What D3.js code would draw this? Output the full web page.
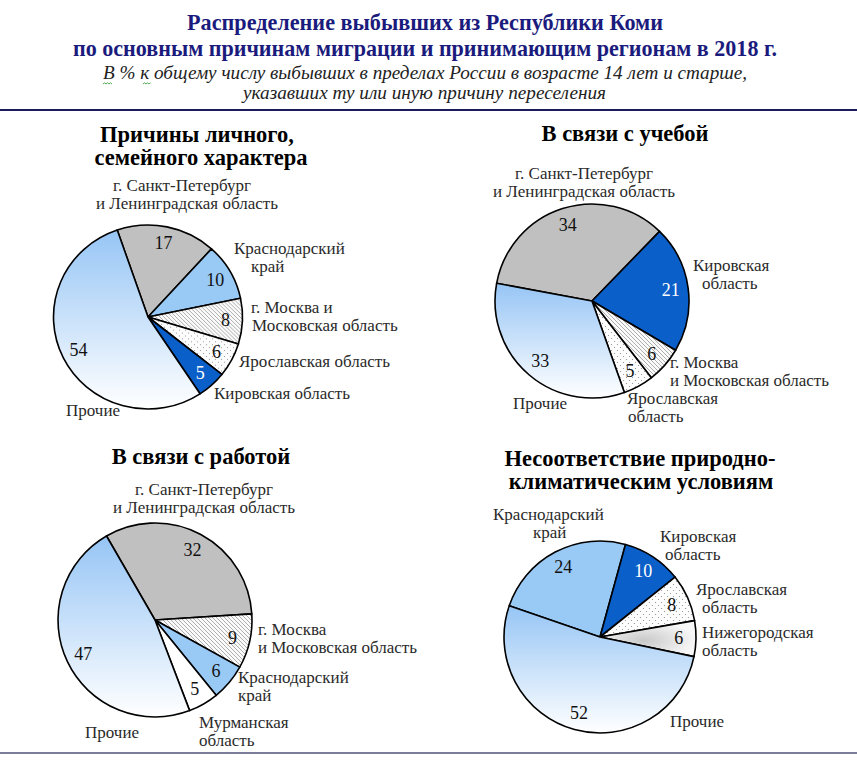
<!DOCTYPE html>
<html><head><meta charset="utf-8">
<script src="https://cdn.jsdelivr.net/npm/d3@7"></script>
<style>
html,body{margin:0;padding:0;background:#fff;}
svg text{font-family:"Liberation Serif","DejaVu Serif","Times New Roman",serif;}
</style></head>
<body>
<svg id="chart" width="857" height="773"></svg>
<script>
// ---------- DATA ----------
const mainTitle1 = "Распределение выбывших из Республики Коми";
const mainTitle2 = "по основным причинам миграции и принимающим регионам в 2018 г.";
const subTitle1 = "В % к общему числу выбывших в пределах России в возрасте 14 лет и старше,";
const subTitle2 = "указавших ту или иную причину переселения";

const personalRegions = ["г. Санкт-Петербург и Ленинградская область","Краснодарский край","г. Москва и Московская область","Ярославская область","Кировская область","Прочие"];
const personalValues = [17, 10, 8, 6, 5, 54];

const studyRegions = ["г. Санкт-Петербург и Ленинградская область","Кировская область","г. Москва и Московская область","Ярославская область","Прочие"];
const studyValues = [34, 21, 6, 5, 33];

const workRegions = ["г. Санкт-Петербург и Ленинградская область","г. Москва и Московская область","Краснодарский край","Мурманская область","Прочие"];
const workValues = [32, 9, 6, 5, 47];

const climateRegions = ["Краснодарский край","Кировская область","Ярославская область","Нижегородская область","Прочие"];
const climateValues = [24, 10, 8, 6, 52];

// ---------- STYLES ----------
const FONT = "'Liberation Serif','DejaVu Serif','Times New Roman',serif";
const fillOf = {
  "г. Санкт-Петербург и Ленинградская область": "#c0c0c0",
  "Краснодарский край": "#99c9f5",
  "г. Москва и Московская область": "url(#hatch)",
  "Ярославская область": "url(#dots)",
  "Кировская область": "#0b5fc8",
  "Мурманская область": "#ffffff",
  "Нижегородская область": "url(#nizh)",
  "Прочие": "url(#otherGrad)"
};
const valueColorOf = r => r === "Кировская область" ? "#ffffff" : "#111";

// ---------- LAYOUT ----------
const pies = [
  { regions: personalRegions, values: personalValues, cx: 148, cy: 317, rx: 94.5, ry: 92, start: -19,
    title: [["Причины личного,", 197, 142], ["семейного характера", 201, 165]],
    labels: [
      [["г. Санкт-Петербург", 113, 191], ["и Ленинградская область", 96, 209]],
      [["Краснодарский", 234, 254], ["край", 251, 272]],
      [["г. Москва и", 251, 313], ["Московская область", 252, 331]],
      [["Ярославская область", 239, 367]],
      [["Кировская область", 214, 399]],
      [["Прочие", 66, 416]]
    ]},
  { regions: studyRegions, values: studyValues, cx: 592, cy: 301, rx: 97, ry: 97, start: -79.5,
    title: [["В связи с учебой", 625, 141]],
    labels: [
      [["г. Санкт-Петербург", 515, 179], ["и Ленинградская область", 493, 197]],
      [["Кировская", 693, 271], ["область", 702, 289]],
      [["г. Москва", 670, 368], ["и Московская область", 670, 386]],
      [["Ярославская", 627, 404], ["область", 628, 422]],
      [["Прочие", 513, 409]]
    ]},
  { regions: workRegions, values: workValues, cx: 155, cy: 620, rx: 97, ry: 97, start: -30,
    title: [["В связи с работой", 201, 464]],
    labels: [
      [["г. Санкт-Петербург", 135, 495], ["и Ленинградская область", 113, 513]],
      [["г. Москва", 258, 635], ["и Московская область", 258, 653]],
      [["Краснодарский", 238, 683], ["край", 238, 701]],
      [["Мурманская", 199, 728], ["область", 199, 746]],
      [["Прочие", 85, 738]]
    ]},
  { regions: climateRegions, values: climateValues, cx: 600, cy: 637, rx: 96, ry: 96, start: -71,
    title: [["Несоответствие природно-", 640, 466], ["климатическим условиям", 641, 489]],
    labels: [
      [["Краснодарский", 493, 520], ["край", 533, 538]],
      [["Кировская", 660, 542], ["область", 665, 560]],
      [["Ярославская", 696, 595], ["область", 702, 613]],
      [["Нижегородская", 702, 638], ["область", 702, 656]],
      [["Прочие", 670, 727]]
    ]}
];

// ---------- DRAW ----------
const svg = d3.select("#chart");
const defs = svg.append("defs");

const hatch = defs.append("pattern").attr("id","hatch").attr("patternUnits","userSpaceOnUse").attr("width",4).attr("height",4);
hatch.append("rect").attr("width",4).attr("height",4).attr("fill","#fafafa");
hatch.append("path").attr("d","M0,0 L4,4 M-1,3 L1,5 M3,-1 L5,1").attr("stroke","#9a9a9a").attr("stroke-width",0.8);

const dots = defs.append("pattern").attr("id","dots").attr("patternUnits","userSpaceOnUse").attr("width",6).attr("height",6);
dots.append("rect").attr("width",6).attr("height",6).attr("fill","#fdfdfd");
dots.append("circle").attr("cx",1.5).attr("cy",1.5).attr("r",0.6).attr("fill","#8a8a8a");
dots.append("circle").attr("cx",4.5).attr("cy",4.5).attr("r",0.6).attr("fill","#8a8a8a");

const og = defs.append("linearGradient").attr("id","otherGrad").attr("x1",0).attr("y1",0).attr("x2",0).attr("y2",1);
og.append("stop").attr("offset","0%").attr("stop-color","#96c5f5");
og.append("stop").attr("offset","100%").attr("stop-color","#ffffff");

const ng = defs.append("radialGradient").attr("id","nizh").attr("cx","45%").attr("cy","55%").attr("r","55%");
ng.append("stop").attr("offset","0%").attr("stop-color","#c9c9c9");
ng.append("stop").attr("offset","100%").attr("stop-color","#f7f7f7");

function txt(x, y) {
  return svg.append("text").attr("x", x).attr("y", y).attr("font-family", FONT);
}

// header
txt(425, 30).attr("text-anchor","middle")
  .attr("font-size",24).attr("font-weight","bold").attr("fill","#1b1b7d")
  .attr("textLength",476).attr("lengthAdjust","spacingAndGlyphs").text(mainTitle1);
txt(73, 56).attr("font-size",24).attr("font-weight","bold").attr("fill","#1b1b7d")
  .attr("textLength",704).attr("lengthAdjust","spacingAndGlyphs").text(mainTitle2);
txt(103, 79)
  .attr("font-size",18).attr("font-style","italic").attr("fill","#222")
  .attr("textLength",644).attr("lengthAdjust","spacingAndGlyphs").text(subTitle1);
txt(243, 99)
  .attr("font-size",18).attr("font-style","italic").attr("fill","#222")
  .attr("textLength",363).attr("lengthAdjust","spacingAndGlyphs").text(subTitle2);

// spell-check squiggles
function squiggle(x0, x1, y) {
  let d = `M${x0},${y}`; let up = true;
  for (let x = x0 + 1.5; x <= x1; x += 1.5) { d += ` L${x},${up ? y - 1.2 : y}`; up = !up; }
  svg.append("path").attr("d", d).attr("fill","none").attr("stroke","#3fa03f").attr("stroke-width",0.9);
}
squiggle(103, 112, 84);
squiggle(143, 151, 84);

svg.append("line").attr("x1",0).attr("x2",857).attr("y1",110).attr("y2",110).attr("stroke","#1a1a5e").attr("stroke-width",2);
svg.append("line").attr("x1",0).attr("x2",857).attr("y1",753).attr("y2",753).attr("stroke","#7c7c9c").attr("stroke-width",2);

pies.forEach(p => {
  const toRad = d => d * Math.PI / 180;
  const pie = d3.pie().sort(null).value(d => d.v)
    .startAngle(toRad(p.start)).endAngle(toRad(p.start) + 2 * Math.PI);
  const data = pie(p.regions.map((r, i) => ({ r, v: p.values[i] })));
  const arc = d3.arc().innerRadius(0).outerRadius(p.rx);

  const g = svg.append("g").attr("transform", `translate(${p.cx},${p.cy}) scale(1,${p.ry / p.rx})`);
  g.selectAll("path").data(data).join("path")
    .attr("d", arc)
    .attr("fill", d => fillOf[d.data.r])
    .attr("stroke", "#000").attr("stroke-width", 1.6)
    .attr("stroke-linejoin","round")
    .attr("vector-effect","non-scaling-stroke");

  // values
  const gv = svg.append("g").attr("transform", `translate(${p.cx},${p.cy})`);
  gv.selectAll("text").data(data).join("text")
    .attr("font-family", FONT)
    .attr("x", d => Math.sin((d.startAngle + d.endAngle) / 2) * p.rx * 0.82)
    .attr("y", d => -Math.cos((d.startAngle + d.endAngle) / 2) * p.ry * 0.82 + 6)
    .attr("text-anchor","middle")
    .attr("font-size",18)
    .attr("fill", d => valueColorOf(d.data.r))
    .text(d => d.data.v);

  // titles
  p.title.forEach(([t, x, y]) => {
    txt(x, y).attr("text-anchor","middle")
      .attr("font-size",22.5).attr("font-weight","bold").attr("fill","#000").text(t);
  });
  // category labels
  p.labels.forEach(lines => lines.forEach(([t, x, y]) => {
    txt(x, y).attr("font-size",17).attr("fill","#2a2a2a").text(t);
  }));
});
</script>
</body></html>
